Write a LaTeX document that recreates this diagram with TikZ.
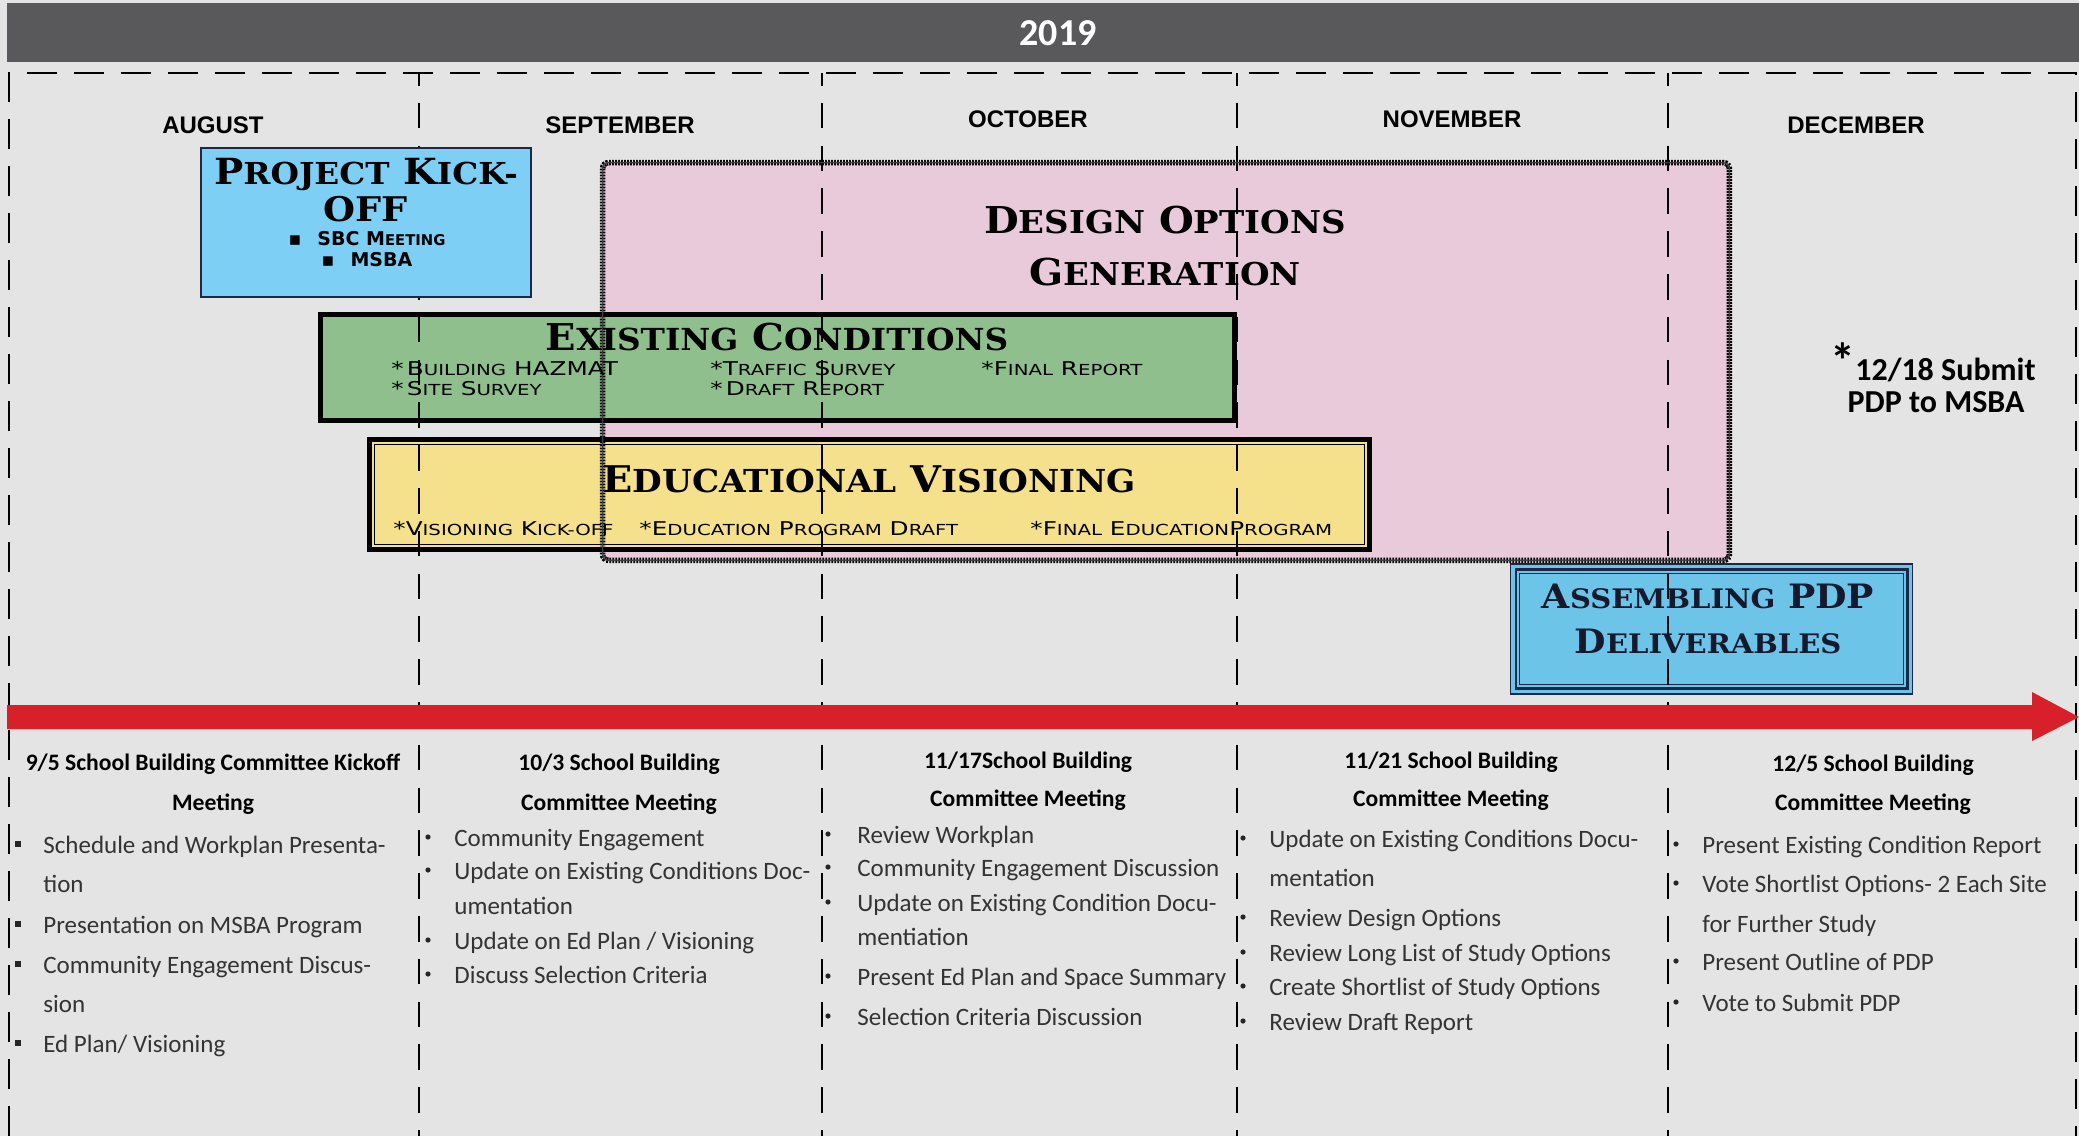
\documentclass[tikz,border=0pt]{standalone}
\usepackage{fontspec}
\usepackage{graphicx}
\setmainfont{Carlito}
\newfontfamily\titlefont[FakeStretch=1.08]{DejaVu Serif}
\newfontfamily\itemfont[FakeStretch=1.3]{DejaVu Sans}
\newfontfamily\plainsans{DejaVu Sans}
\newfontfamily\monthfont{Liberation Sans}
\usetikzlibrary{positioning}

\definecolor{bannergray}{RGB}{89,89,91}
\definecolor{pagegray}{RGB}{228,228,228}
\definecolor{kickblue}{RGB}{125,207,245}
\definecolor{designpink}{RGB}{232,202,218}
\definecolor{existgreen}{RGB}{143,191,141}
\definecolor{eduyellow}{RGB}{245,225,140}
\definecolor{asmblue}{RGB}{108,196,232}
\definecolor{arrowred}{RGB}{215,32,42}
\definecolor{navyline}{RGB}{30,40,70}
\definecolor{asmtext}{RGB}{20,25,45}

% fake small caps: big first letter, smaller rest
\newcommand{\fsc}[3][0.82]{#2\scalebox{#1}{#3}}

\tikzset{
	yearlabel/.style={
		text=white,
		font=\bfseries\fontsize{19}{21}\selectfont,
	},
	framedash/.style={
		line width=1pt,
		dash pattern=on 15pt off 8.5pt,
	},
	monthsep/.style={
		line width=1.4pt,
		dash pattern=on 12.8pt off 8.6pt,
		dash phase=6.5pt,
	},
	monthlabel/.style={
		anchor=base,
		inner sep=0pt,
		font=\monthfont\bfseries\fontsize{12}{14}\selectfont,
	},
	kickbox/.style={
		rectangle,
		draw=navyline,
		line width=0.7pt,
		fill=kickblue,
	},
	designbox/.style={
		rectangle,
		rounded corners=3pt,
		fill=designpink,
	},
	designedge/.style={
		draw=black,
		rounded corners=3pt,
		line width=2.8pt,
		dash pattern=on 0.9pt off 0.6pt,
		postaction={draw=black!75, solid, line width=0.8pt},
	},
	existbox/.style={
		rectangle,
		draw=black,
		line width=2.5pt,
		fill=existgreen,
	},
	eduvbox/.style={
		rectangle,
		draw=black,
		line width=2.5pt,
		fill=eduyellow,
	},
	eduvinner/.style={
		draw=black,
		line width=0.6pt,
	},
	asmbox/.style={
		rectangle,
		draw=navyline,
		line width=0.6pt,
		fill=asmblue,
	},
	phasetitle/.style={
		anchor=base,
		inner sep=0pt,
		font=\titlefont\bfseries\fontsize{18.5}{20}\selectfont,
	},
	phaseitem/.style={
		anchor=base west,
		inner sep=0pt,
		font=\itemfont\fontsize{9.5}{11}\selectfont,
	},
	kickitem/.style={
		anchor=base,
		inner sep=0pt,
		font=\plainsans\bfseries\fontsize{9.5}{11}\selectfont,
	},
	notetext/.style={
		anchor=base,
		inner sep=0pt,
		font=\bfseries\fontsize{16}{18}\selectfont,
	},
	colhead/.style={
		anchor=base,
		inner sep=0pt,
		font=\bfseries\fontsize{11.8}{13}\selectfont,
	},
	colitem/.style={
		anchor=base west,
		inner sep=0pt,
		text=black!80,
		font=\fontsize{12.5}{14}\selectfont,
	},
	dotbullet/.style={
		circle,
		fill=black!85,
		inner sep=0pt,
		minimum size=2.6pt,
	},
	sqbullet/.style={
		rectangle,
		fill=black!85,
		inner sep=0pt,
		minimum size=3.2pt,
	}
}

\begin{document}
\begin{tikzpicture}[x=0.5pt,y=-0.5pt]
	\useasboundingbox (0,0) rectangle (2079,1136);
	\fill[pagegray] (0,0) rectangle (2079,1136);
	\fill[bannergray] (7,3) rectangle (2079,62);
	\node [yearlabel] (year) at (1058,33) {2019};
	\draw[framedash] (9,1136) -- (9,73) -- (2076,73) -- (2076,1136);

	\node [monthlabel] (aug) at (213,133) {AUGUST};
	\node [monthlabel] (sep) at (620,133) {SEPTEMBER};
	\node [monthlabel] (oct) at (1028,127) {OCTOBER};
	\node [monthlabel] (nov) at (1452,127) {NOVEMBER};
	\node [monthlabel] (dec) at (1856,133) {DECEMBER};

	% phase boxes
	\node [designbox,minimum width=563pt,minimum height=198.5pt] (design) at (1166,361.5) {};
	\node [existbox,minimum width=457pt,minimum height=53pt] (exist) at (777.5,367.5) {};
	\node [eduvbox,minimum width=500pt,minimum height=55pt] (eduv) at (869.5,494.5) {};
	\draw[eduvinner] ([xshift=3.6pt,yshift=-3.6pt]eduv.north west) rectangle ([xshift=-3.6pt,yshift=3.6pt]eduv.south east);
	\node [asmbox,minimum width=201pt,minimum height=65pt] (asm) at (1711.5,629) {};
	\draw[navyline,line width=1.4pt] ([xshift=3pt,yshift=-3pt]asm.north west) rectangle ([xshift=-3pt,yshift=3pt]asm.south east);
	\draw[navyline,line width=0.5pt] ([xshift=5pt,yshift=-5pt]asm.north west) rectangle ([xshift=-5pt,yshift=5pt]asm.south east);

	\foreach \sx in {419,822,1237,1668}
		\draw[monthsep] (\sx,73) -- (\sx,1136);

	\draw[designedge] (design.north west) rectangle (design.south east);
	\node [kickbox,minimum width=165pt,minimum height=74.5pt] (kick) at (366,222.5) {};

	% box texts
	\node [phasetitle,font=\titlefont\bfseries\fontsize{18}{20}\selectfont] (kickA) at (366,184) {\fsc[0.84]{P}{ROJECT} \fsc[0.84]{K}{ICK-}};
	\node [phasetitle,font=\titlefont\bfseries\fontsize{17}{19}\selectfont] (kickB) at (366,221) {OFF};
	\node [kickitem] (kickC) at (367,245) {\symbol{"25AA}\hspace{8pt}SBC \fsc[0.78]{M}{EETING}};
	\node [kickitem] (kickD) at (367,266) {\symbol{"25AA}\hspace{8pt}MSBA};

	\node [phasetitle] (designA) at (1165,233) {\fsc[0.85]{D}{ESIGN} \fsc[0.85]{O}{PTIONS}};
	\node [phasetitle] (designB) at (1165,285) {\fsc[0.85]{G}{ENERATION}};

	\node [phasetitle] (existA) at (777,350) {\fsc{E}{XISTING} \fsc{C}{ONDITIONS}};
	\node [phaseitem] (existB) at (391,375) {*\,\fsc[0.8]{B}{UILDING} HAZMAT};
	\node [phaseitem] (existC) at (391,395) {*\,\fsc[0.8]{S}{ITE} \fsc[0.8]{S}{URVEY}};
	\node [phaseitem] (existD) at (710,375) {*\fsc[0.8]{T}{RAFFIC} \fsc[0.8]{S}{URVEY}};
	\node [phaseitem] (existE) at (710,395) {*\,\fsc[0.8]{D}{RAFT} \fsc[0.8]{R}{EPORT}};
	\node [phaseitem] (existF) at (981,375) {*\fsc[0.8]{F}{INAL} \fsc[0.8]{R}{EPORT}};

	\node [phasetitle,font=\titlefont\bfseries\fontsize{18.4}{20}\selectfont] (eduvA) at (869,492) {\fsc[0.86]{E}{DUCATIONAL} \fsc[0.86]{V}{ISIONING}};
	\node [phaseitem] (eduvB) at (393,535) {*\fsc[0.8]{V}{ISIONING} \fsc[0.8]{K}{ICK-OFF}};
	\node [phaseitem] (eduvC) at (639,535) {*\fsc[0.8]{E}{DUCATION} \fsc[0.8]{P}{ROGRAM} \fsc[0.8]{D}{RAFT}};
	\node [phaseitem] (eduvD) at (1030,535) {*\fsc[0.8]{F}{INAL} \fsc[0.8]{E}{DUCATION}\fsc[0.8]{P}{ROGRAM}};

	\node [phasetitle,text=asmtext,font=\titlefont\bfseries\fontsize{16.8}{18}\selectfont] (asmA) at (1708,608) {\fsc[0.8]{A}{SSEMBLING} PDP};
	\node [phasetitle,text=asmtext,font=\titlefont\bfseries\fontsize{16.8}{18}\selectfont] (asmB) at (1708,653) {\fsc[0.8]{D}{ELIVERABLES}};

	\node [notetext] (noteA) at (1933,380) {{\fontsize{25}{25}\selectfont\raisebox{1pt}{*}}12/18 Submit};
	\node [notetext] (noteB) at (1936,412) {PDP to MSBA};

	% timeline
	\fill[arrowred] (7,705) -- (2032,705) -- (2032,692) -- (2079,717) -- (2032,741) -- (2032,729) -- (7,729) -- cycle;

	% meetings
	\node [colhead] (augH1) at (213,770) {9/5 School Building Committee Kickoff};
	\node [colhead] (augH2) at (213,810) {Meeting};
	\node [sqbullet] at (18,844) {};
	\node [colitem] (aug1) at (43,853) {Schedule and Workplan Presenta-};
	\node [colitem] (aug2) at (43,892) {tion};
	\node [sqbullet] at (18,924) {};
	\node [colitem] (aug3) at (43,933) {Presentation on MSBA Program};
	\node [sqbullet] at (18,964) {};
	\node [colitem] (aug4) at (43,973) {Community Engagement Discus-};
	\node [colitem] (aug5) at (43,1012) {sion};
	\node [sqbullet] at (18,1043) {};
	\node [colitem] (aug6) at (43,1052) {Ed Plan/ Visioning};

	\node [colhead] (sepH1) at (619,770) {10/3 School Building};
	\node [colhead] (sepH2) at (619,810) {Committee Meeting};
	\node [dotbullet] at (428,837) {};
	\node [colitem] (sep1) at (454,846) {Community Engagement};
	\node [dotbullet] at (428,870) {};
	\node [colitem] (sep2) at (454,879) {Update on Existing Conditions Doc-};
	\node [colitem] (sep3) at (454,914) {umentation};
	\node [dotbullet] at (428,940) {};
	\node [colitem] (sep4) at (454,949) {Update on Ed Plan / Visioning};
	\node [dotbullet] at (428,974) {};
	\node [colitem] (sep5) at (454,983) {Discuss Selection Criteria};

	\node [colhead] (octH1) at (1028,768) {11/17School Building};
	\node [colhead] (octH2) at (1028,806) {Committee Meeting};
	\node [dotbullet] at (828,834) {};
	\node [colitem] (oct1) at (857,843) {Review Workplan};
	\node [dotbullet] at (828,867) {};
	\node [colitem] (oct2) at (857,876) {Community Engagement Discussion};
	\node [dotbullet] at (828,902) {};
	\node [colitem] (oct3) at (857,911) {Update on Existing Condition Docu-};
	\node [colitem] (oct4) at (857,945) {mentiation};
	\node [dotbullet] at (828,976) {};
	\node [colitem] (oct5) at (857,985) {Present Ed Plan and Space Summary};
	\node [dotbullet] at (828,1016) {};
	\node [colitem] (oct6) at (857,1025) {Selection Criteria Discussion};

	\node [colhead] (novH1) at (1451,768) {11/21 School Building};
	\node [colhead] (novH2) at (1451,806) {Committee Meeting};
	\node [dotbullet] at (1243,838) {};
	\node [colitem] (nov1) at (1269,847) {Update on Existing Conditions Docu-};
	\node [colitem] (nov2) at (1269,886) {mentation};
	\node [dotbullet] at (1243,917) {};
	\node [colitem] (nov3) at (1269,926) {Review Design Options};
	\node [dotbullet] at (1243,952) {};
	\node [colitem] (nov4) at (1269,961) {Review Long List of Study Options};
	\node [dotbullet] at (1243,986) {};
	\node [colitem] (nov5) at (1269,995) {Create Shortlist of Study Options};
	\node [dotbullet] at (1243,1021) {};
	\node [colitem] (nov6) at (1269,1030) {Review Draft Report};

	\node [colhead] (decH1) at (1873,771) {12/5 School Building};
	\node [colhead] (decH2) at (1873,810) {Committee Meeting};
	\node [dotbullet] at (1676,844) {};
	\node [colitem] (dec1) at (1702,853) {Present Existing Condition Report};
	\node [dotbullet] at (1676,883) {};
	\node [colitem] (dec2) at (1702,892) {Vote Shortlist Options- 2 Each Site};
	\node [colitem] (dec3) at (1702,932) {for Further Study};
	\node [dotbullet] at (1676,961) {};
	\node [colitem] (dec4) at (1702,970) {Present Outline of PDP};
	\node [dotbullet] at (1676,1002) {};
	\node [colitem] (dec5) at (1702,1011) {Vote to Submit PDP};
\end{tikzpicture}
\end{document}
